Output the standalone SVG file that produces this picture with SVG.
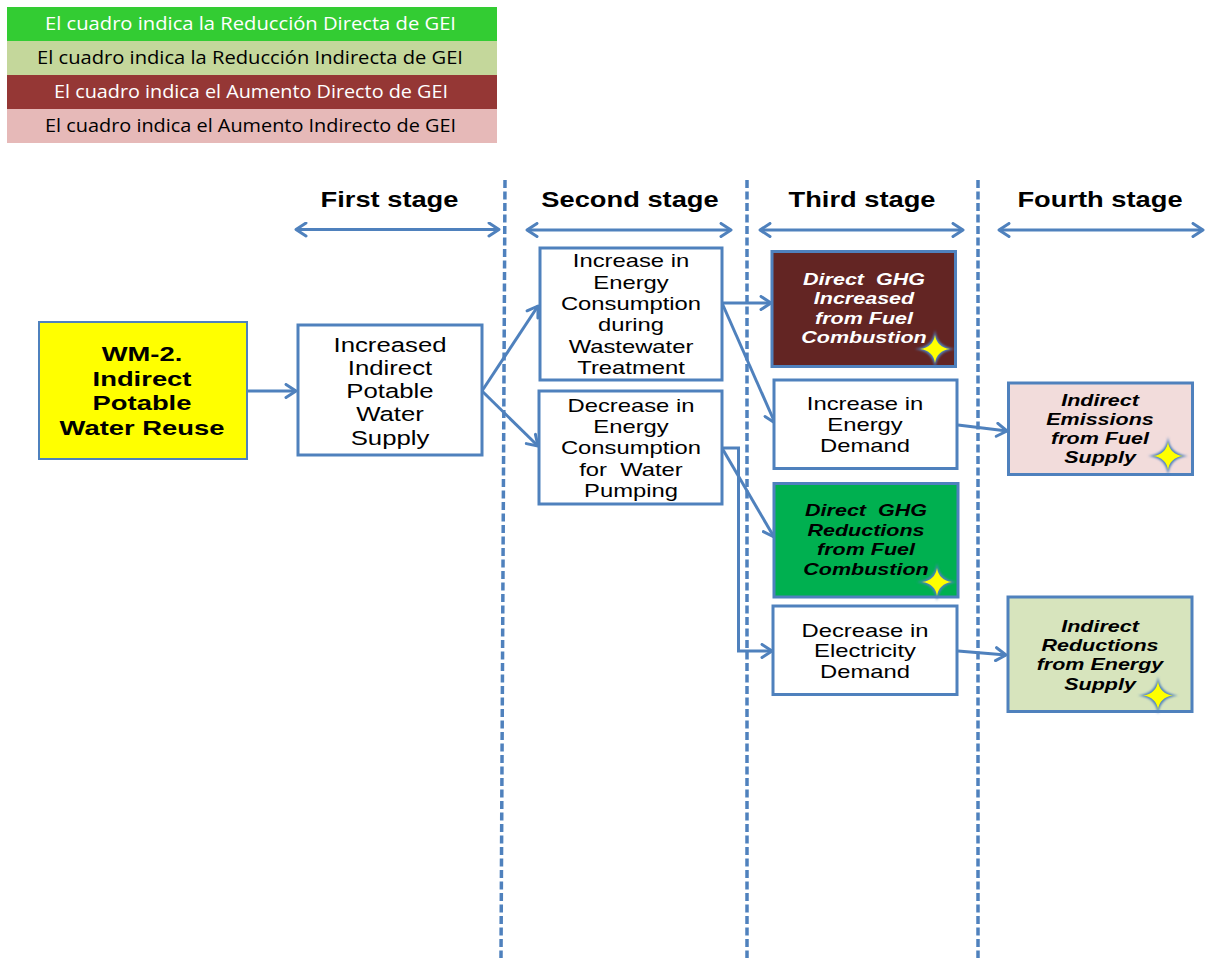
<svg xmlns="http://www.w3.org/2000/svg" width="1216" height="958" viewBox="0 0 1216 958">
  <style>
    .legend { font-family: "Open Sans", "Liberation Sans", sans-serif; font-size: 18px; }
    .hdr { font-family: "Liberation Sans", Arial, sans-serif; font-size: 22px; font-weight: bold; text-anchor: middle; fill: #000; }
    .box { stroke: #4F81BD; stroke-width: 3; }
    .txt { font-family: "Liberation Sans", Arial, sans-serif; font-size: 17.5px; text-anchor: middle; fill: #000; }
    .big { font-size: 19.5px; }
    .wm { font-family: "Liberation Sans", Arial, sans-serif; font-size: 20px; font-weight: bold; text-anchor: middle; fill: #000; }
    .res { font-family: "Liberation Sans", Arial, sans-serif; font-size: 16.3px; font-weight: bold; font-style: italic; text-anchor: middle; }
    .conn { stroke: #4F81BD; stroke-width: 3; fill: none; }
    .div { stroke: #4F81BD; stroke-width: 3.5; stroke-dasharray: 8 3.5; fill: none; }
  </style>
  <defs>
    <marker id="arr" viewBox="0 0 14 16" refX="12" refY="8" markerWidth="14" markerHeight="16" markerUnits="userSpaceOnUse" orient="auto-start-reverse">
      <path d="M2,1.5 L12,8 L2,14.5" fill="none" stroke="#4F81BD" stroke-width="3" stroke-linecap="round" stroke-linejoin="round"/>
    </marker>
    <filter id="glow" x="-50%" y="-50%" width="200%" height="200%">
      <feGaussianBlur stdDeviation="1.2"/>
    </filter>
    <!-- four-point sparkle: blue halo under a yellow core -->
    <g id="star">
      <path d="M0,-19 Q2,-2 20,0 Q2,2 0,19 Q-2,2 -20,0 Q-2,-2 0,-19 Z" fill="#4F81BD" filter="url(#glow)"/>
      <path d="M0,-14 Q1.8,-1.8 15,0 Q1.8,1.8 0,14 Q-1.8,1.8 -15,0 Q-1.8,-1.8 0,-14 Z" fill="#FFFF00"/>
    </g>
  </defs>

  <rect width="1216" height="958" fill="#FFFFFF"/>

  <!-- legend -->
  <g id="legend">
    <rect x="7" y="7" width="490" height="34" fill="#33CC33"/>
    <rect x="7" y="41" width="490" height="34" fill="#C4D79B"/>
    <rect x="7" y="75" width="490" height="34" fill="#953735"/>
    <rect x="7" y="109" width="490" height="34" fill="#E6B9B8"/>
    <text class="legend" x="45" y="30" textLength="411" lengthAdjust="spacingAndGlyphs" fill="#FFFFFF">El cuadro indica la Reducción Directa de GEI</text>
    <text class="legend" x="37" y="64" textLength="426" lengthAdjust="spacingAndGlyphs" fill="#000000">El cuadro indica la Reducción Indirecta de GEI</text>
    <text class="legend" x="54" y="98" textLength="394" lengthAdjust="spacingAndGlyphs" fill="#FFFFFF">El cuadro indica el Aumento Directo de GEI</text>
    <text class="legend" x="45" y="132" textLength="411" lengthAdjust="spacingAndGlyphs" fill="#000000">El cuadro indica el Aumento Indirecto de GEI</text>
  </g>

  <!-- stage dividers -->
  <g id="dividers">
    <path class="div" d="M505,180 L501,958"/>
    <path class="div" d="M747,180 L747,958"/>
    <path class="div" d="M978,180 L978,958"/>
  </g>

  <!-- stage headers -->
  <g id="stages">
    <g transform="translate(389.5 0) scale(1.24 1)"><text class="hdr" x="0" y="207">First stage</text></g>
    <g transform="translate(630 0) scale(1.24 1)"><text class="hdr" x="0" y="207">Second stage</text></g>
    <g transform="translate(862 0) scale(1.24 1)"><text class="hdr" x="0" y="207">Third stage</text></g>
    <g transform="translate(1100 0) scale(1.24 1)"><text class="hdr" x="0" y="207">Fourth stage</text></g>
    <path class="conn" d="M296,229.5 L499,229.5" marker-start="url(#arr)" marker-end="url(#arr)"/>
    <path class="conn" d="M527,230 L731,230" marker-start="url(#arr)" marker-end="url(#arr)"/>
    <path class="conn" d="M760,230 L963,230" marker-start="url(#arr)" marker-end="url(#arr)"/>
    <path class="conn" d="M999,230 L1203,230" marker-start="url(#arr)" marker-end="url(#arr)"/>
  </g>

  <!-- connectors -->
  <g id="connectors">
    <path class="conn" d="M247,391 L296,391" marker-end="url(#arr)"/>
    <path class="conn" d="M482,391 L538,306" marker-end="url(#arr)"/>
    <path class="conn" d="M482,391 L538,446" marker-end="url(#arr)"/>
    <path class="conn" d="M722,303 L771,303" marker-end="url(#arr)"/>
    <path class="conn" d="M722,303 L775,423" marker-end="url(#arr)"/>
    <path class="conn" d="M722,448 L738.5,448 L738.5,651 L772,651" marker-end="url(#arr)"/>
    <path class="conn" d="M722,448 L774,537" marker-end="url(#arr)"/>
    <path class="conn" d="M958,425 L1007,431" marker-end="url(#arr)"/>
    <path class="conn" d="M958,651 L1006,655" marker-end="url(#arr)"/>
  </g>

  <!-- first stage -->
  <g id="wm2">
    <rect x="39" y="322" width="208" height="137" fill="#FFFF00" stroke="#4F81BD" stroke-width="2"/>
    <g transform="translate(142 0) scale(1.37 1)">
      <text class="wm" x="0" y="361">WM-2.</text>
      <text class="wm" x="0" y="386">Indirect</text>
      <text class="wm" x="0" y="410">Potable</text>
      <text class="wm" x="0" y="435">Water Reuse</text>
    </g>
  </g>

  <g id="supply">
    <rect class="box" x="298" y="325" width="184" height="130" fill="#FFFFFF"/>
    <g transform="translate(390 0) scale(1.32 1)">
      <text class="txt big" x="0" y="352">Increased</text>
      <text class="txt big" x="0" y="375">Indirect</text>
      <text class="txt big" x="0" y="398">Potable</text>
      <text class="txt big" x="0" y="421.5">Water</text>
      <text class="txt big" x="0" y="445">Supply</text>
    </g>
  </g>

  <!-- second stage -->
  <g id="wastewater">
    <rect class="box" x="540" y="248" width="182" height="132" fill="#FFFFFF"/>
    <g transform="translate(631 0) scale(1.36 1)">
      <text class="txt" x="0" y="267.5">Increase in</text>
      <text class="txt" x="0" y="288.8">Energy</text>
      <text class="txt" x="0" y="310.1">Consumption</text>
      <text class="txt" x="0" y="331.4">during</text>
      <text class="txt" x="0" y="352.7">Wastewater</text>
      <text class="txt" x="0" y="374">Treatment</text>
    </g>
  </g>

  <g id="pumping">
    <rect class="box" x="539" y="391" width="183" height="113" fill="#FFFFFF"/>
    <g transform="translate(631 0) scale(1.36 1)">
      <text class="txt" x="0" y="411.7">Decrease in</text>
      <text class="txt" x="0" y="433">Energy</text>
      <text class="txt" x="0" y="454.3">Consumption</text>
      <text class="txt" x="0" y="475.6" xml:space="preserve">for  Water</text>
      <text class="txt" x="0" y="496.9">Pumping</text>
    </g>
  </g>

  <!-- third stage -->
  <g id="ghg-increase">
    <rect class="box" x="772" y="251.5" width="183.5" height="115" fill="#632523"/>
    <g transform="translate(864 0) scale(1.32 1)" fill="#FFFFFF">
      <text class="res" x="0" y="285" xml:space="preserve">Direct  GHG</text>
      <text class="res" x="0" y="304.5">Increased</text>
      <text class="res" x="0" y="323.8">from Fuel</text>
      <text class="res" x="0" y="343.3">Combustion</text>
    </g>
    <use href="#star" x="935" y="349"/>
  </g>

  <g id="energy-demand">
    <rect class="box" x="774" y="380" width="183" height="88.5" fill="#FFFFFF"/>
    <g transform="translate(865 0) scale(1.36 1)">
      <text class="txt" x="0" y="410">Increase in</text>
      <text class="txt" x="0" y="431.3">Energy</text>
      <text class="txt" x="0" y="452.5">Demand</text>
    </g>
  </g>

  <g id="ghg-reduction">
    <rect class="box" x="774" y="483.5" width="184" height="113.5" fill="#00B050"/>
    <g transform="translate(866 0) scale(1.32 1)" fill="#000000">
      <text class="res" x="0" y="516" xml:space="preserve">Direct  GHG</text>
      <text class="res" x="0" y="535.7">Reductions</text>
      <text class="res" x="0" y="555">from Fuel</text>
      <text class="res" x="0" y="575">Combustion</text>
    </g>
    <use href="#star" x="937" y="582"/>
  </g>

  <g id="electricity-demand">
    <rect class="box" x="773" y="606" width="184" height="88.5" fill="#FFFFFF"/>
    <g transform="translate(865 0) scale(1.36 1)">
      <text class="txt" x="0" y="636.7">Decrease in</text>
      <text class="txt" x="0" y="657.5">Electricity</text>
      <text class="txt" x="0" y="678.3">Demand</text>
    </g>
  </g>

  <!-- fourth stage -->
  <g id="fuel-supply">
    <rect class="box" x="1008.5" y="383" width="184" height="91.5" fill="#F2DCDB"/>
    <g transform="translate(1100 0) scale(1.32 1)" fill="#000000">
      <text class="res" x="0" y="406">Indirect</text>
      <text class="res" x="0" y="425">Emissions</text>
      <text class="res" x="0" y="444">from Fuel</text>
      <text class="res" x="0" y="462.7">Supply</text>
    </g>
    <use href="#star" x="1168" y="456"/>
  </g>

  <g id="energy-supply">
    <rect class="box" x="1008" y="597" width="184" height="114.5" fill="#D7E4BD"/>
    <g transform="translate(1100 0) scale(1.32 1)" fill="#000000">
      <text class="res" x="0" y="631.7">Indirect</text>
      <text class="res" x="0" y="651">Reductions</text>
      <text class="res" x="0" y="670.3">from Energy</text>
      <text class="res" x="0" y="690">Supply</text>
    </g>
    <use href="#star" x="1158" y="695.5"/>
  </g>
</svg>
